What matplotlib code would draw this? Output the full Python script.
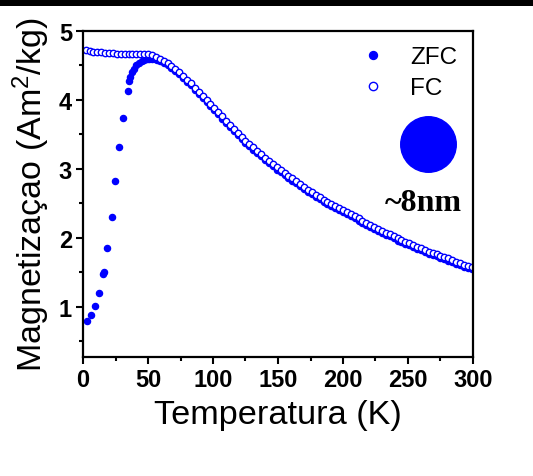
import matplotlib
matplotlib.use("Agg")
import matplotlib.pyplot as plt
from matplotlib.patches import Rectangle
from matplotlib.ticker import MultipleLocator

# ---- data ----
zfc_T = [2.8, 6.5, 9.2, 12.3, 15.2, 15.8, 18.7, 22.3, 24.9, 27.7, 30.5, 34.3, 35.5,
         36.5, 37.5, 39, 41, 43, 45, 47, 49, 51, 53, 55, 57, 59,
         62, 65, 68, 71, 74, 77, 80, 83, 86, 89, 92, 95, 98, 101, 104, 107, 110,
         113, 116, 119, 122, 125, 128, 131, 134, 137, 140, 143, 146, 149, 152,
         155, 158, 161, 164, 167, 170, 173, 176, 179, 182, 185, 188, 191, 194,
         197, 200, 203, 206, 209, 212, 215, 218, 221, 224, 227, 230, 233, 236,
         239, 242, 245, 248, 251, 254, 257, 260, 263, 266, 269, 272, 275, 278,
         281, 284, 287, 290, 293, 296, 299]
zfc_M = [0.79, 0.88, 1.01, 1.20, 1.48, 1.51, 1.85, 2.30, 2.82, 3.31, 3.74, 4.13, 4.27,
         4.33, 4.40, 4.45, 4.50, 4.53, 4.56, 4.58, 4.59, 4.60, 4.60, 4.59, 4.58, 4.56,
         4.54, 4.50, 4.46, 4.42, 4.37, 4.32, 4.26, 4.21, 4.15, 4.09, 4.03, 3.97, 3.91,
         3.85, 3.79, 3.73, 3.67, 3.61, 3.55, 3.49, 3.43, 3.38, 3.33, 3.28, 3.23, 3.18,
         3.13, 3.08, 3.04, 2.99, 2.95, 2.91, 2.87, 2.83, 2.79, 2.75, 2.71, 2.67, 2.63,
         2.59, 2.56, 2.52, 2.49, 2.46, 2.43, 2.40, 2.37, 2.34, 2.31, 2.28, 2.25, 2.22,
         2.19, 2.16, 2.13, 2.10, 2.07, 2.04, 2.02, 1.99, 1.96, 1.94, 1.91, 1.89, 1.86,
         1.84, 1.82, 1.79, 1.77, 1.75, 1.73, 1.71, 1.69, 1.67, 1.65, 1.62, 1.60, 1.58,
         1.56, 1.54]

fc_T = [2, 5, 8, 11, 14, 17, 20, 23, 26, 29, 32, 35, 38, 41, 44, 47, 50, 53, 56, 59,
        62, 65, 68, 71, 74, 77, 80, 83, 86, 89, 92, 95, 98, 101, 104, 107, 110, 113,
        116, 119, 122, 125, 128, 131, 134, 137, 140, 143, 146, 149, 152, 155, 158,
        161, 164, 167, 170, 173, 176, 179, 182, 185, 188, 191, 194, 197, 200, 203,
        206, 209, 212, 215, 218, 221, 224, 227, 230, 233, 236, 239, 242, 245, 248,
        251, 254, 257, 260, 263, 266, 269, 272, 275, 278, 281, 284, 287, 290, 293,
        296, 299]
fc_M = [4.72, 4.71, 4.70, 4.69, 4.69, 4.68, 4.68, 4.68, 4.67, 4.67, 4.67, 4.67, 4.67,
        4.67, 4.67, 4.66, 4.66, 4.65, 4.63, 4.60, 4.57, 4.53, 4.49, 4.45, 4.40, 4.35,
        4.29, 4.24, 4.18, 4.12, 4.06, 4.00, 3.94, 3.88, 3.82, 3.76, 3.70, 3.64, 3.58,
        3.52, 3.46, 3.41, 3.36, 3.31, 3.26, 3.21, 3.16, 3.11, 3.07, 3.02, 2.98, 2.94,
        2.90, 2.86, 2.82, 2.78, 2.74, 2.70, 2.66, 2.62, 2.59, 2.55, 2.52, 2.49, 2.46,
        2.43, 2.40, 2.37, 2.34, 2.31, 2.28, 2.25, 2.22, 2.19, 2.16, 2.13, 2.10, 2.07,
        2.05, 2.02, 1.99, 1.97, 1.94, 1.92, 1.89, 1.87, 1.85, 1.82, 1.80, 1.78, 1.76,
        1.74, 1.72, 1.70, 1.68, 1.65, 1.63, 1.61, 1.59, 1.57]

x_ticks = [0, 50, 100, 150, 200, 250, 300]
y_ticks = [1, 2, 3, 4, 5]
series_labels = ["ZFC", "FC"]
size_label = "~8nm"

# ---- style ----
plt.rcParams['font.family'] = ['Liberation Sans', 'DejaVu Sans']
plt.rcParams['mathtext.default'] = 'regular'
blue = '#0000FF'

fig = plt.figure(figsize=(5.33, 4.77), dpi=100)
ax = fig.add_axes([83/533, 1 - 358/477, (473-83)/533, (358-32)/477])

ax.plot(zfc_T, zfc_M, linestyle='none', marker='o', markersize=4.4,
        color=blue, markeredgecolor=blue, label=series_labels[0])
ax.plot(fc_T, fc_M, linestyle='none', marker='o', markersize=4.6,
        markerfacecolor='white', markeredgecolor=blue, markeredgewidth=1.0,
        label=series_labels[1])

ax.set_xlim(0, 300)
ax.set_ylim(0.27, 5.0)
ax.set_xticks(x_ticks)
ax.set_yticks(y_ticks)
ax.xaxis.set_minor_locator(MultipleLocator(25))
ax.yaxis.set_minor_locator(MultipleLocator(0.5))
ax.tick_params(which='both', direction='out', top=False, right=False, width=1.5)
ax.tick_params(which='major', length=5, labelsize=17, pad=3)
ax.tick_params(which='minor', length=3)
for lab in ax.get_xticklabels() + ax.get_yticklabels():
    lab.set_fontweight('bold')
for sp in ax.spines.values():
    sp.set_linewidth(1.6)

ax.set_xlabel("Temperatura (K)", fontsize=24.7, labelpad=6)
ax.set_ylabel("Magnetizaçao (Am$^2$/kg)", fontsize=24.5, labelpad=5)

leg = ax.legend(loc='upper left', bbox_to_anchor=(0.67, 1.013), frameon=False,
                fontsize=17.5, handlelength=0.8, handletextpad=1.1,
                labelspacing=0.38, borderpad=0.3, markerscale=1.3)

# decorative nanoparticle dot and size label
ax.plot([0.885], [0.653], transform=ax.transAxes, marker='o', markersize=40,
        color=blue, linestyle='none', clip_on=False)
ax.text(0.972, 0.475, size_label, transform=ax.transAxes, ha='right', va='center',
        fontsize=23, fontweight='bold', family=['Liberation Serif', 'DejaVu Serif'])

# black bar at the top of the image
fig.patches.append(Rectangle((0, 1 - 7/477), 1, 7/477, transform=fig.transFigure,
                             facecolor='black', edgecolor='none'))

fig.savefig("out.png", dpi=100)
